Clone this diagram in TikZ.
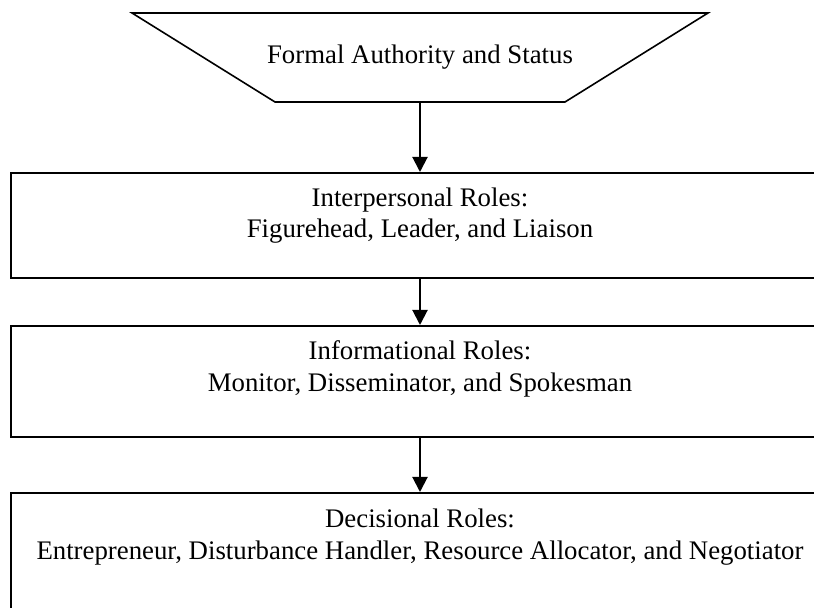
\documentclass[tikz,border=0pt]{standalone}
\usepackage{fontspec}
\setmainfont{Liberation Serif}
\usetikzlibrary{arrows.meta}
\begin{document}
\begin{tikzpicture}[x=0.5pt,y=-0.5pt,
  rolebox/.style={draw=black,line width=1pt,rectangle,inner sep=0pt,minimum width=409pt},
  txt/.style={anchor=base,inner sep=0pt,font=\fontsize{13.4}{16}\selectfont},
  flow/.style={line width=1pt,-{Triangle[width=7.5pt,length=7.5pt]}}]
\useasboundingbox (0,0) rectangle (814,608);
\clip (0,0) rectangle (814,608);
% trapezoid
\draw[line width=0.8pt,line join=miter] (132,13) -- (708,13) -- (565,102) -- (275,102) -- cycle;
\coordinate (trapb) at (420,102);
\node[txt] (t0) at (420,64) {Formal Authority and Status};
% boxes
\node[rolebox,minimum height=52.5pt] (b1) at (420,225.5) {};
\node[rolebox,minimum height=55.5pt] (b2) at (420,381.5) {};
\node[rolebox,minimum height=70pt] (b3) at (420,563) {};
% texts
\node[txt] (t1a) at (420,207) {Interpersonal Roles:};
\node[txt] (t1b) at (420,238) {Figurehead, Leader, and Liaison};
\node[txt] (t2a) at (420,360) {Informational Roles:};
\node[txt] (t2b) at (420,392) {Monitor, Disseminator, and Spokesman};
\node[txt] (t3a) at (420,528) {Decisional Roles:};
\node[txt] (t3b) at (420,560) {Entrepreneur, Disturbance Handler, Resource Allocator, and Negotiator};
% arrows
\draw[flow] (trapb) -- (b1.north);
\draw[flow] (b1.south) -- (b2.north);
\draw[flow] (b2.south) -- (b3.north);
\end{tikzpicture}
\end{document}
